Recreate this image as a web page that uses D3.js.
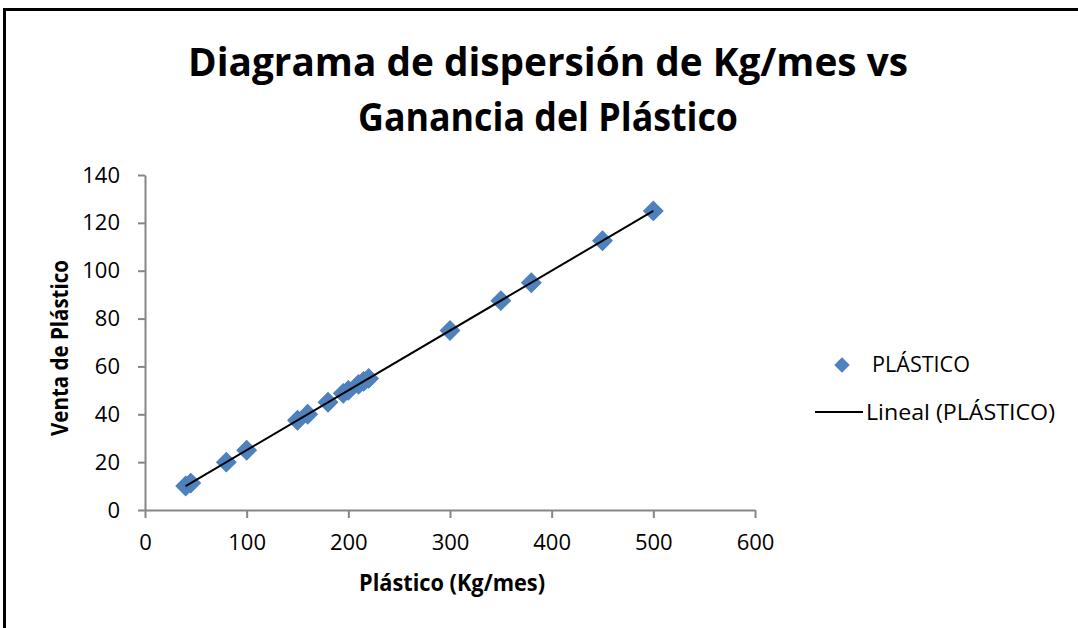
<!DOCTYPE html>
<html>
<head>
<meta charset="utf-8">
<script src="https://cdn.jsdelivr.net/npm/d3@7"></script>
<style>
  html, body { margin: 0; padding: 0; background: #fff; }
  svg { display: block; font-family: "Open Sans", sans-serif; }
</style>
</head>
<body>
<svg></svg>
<script>
// Data
const kgMes = [40, 45, 80, 100, 150, 160, 180, 195, 200, 210, 215, 220, 300, 350, 380, 450, 500];
const venta = [10, 11.25, 20, 25, 37.5, 40, 45, 48.75, 50, 52.5, 53.75, 55, 75, 87.5, 95, 112.5, 125];
const xTicks = [0, 100, 200, 300, 400, 500, 600];
const yTicks = [0, 20, 40, 60, 80, 100, 120, 140];
const titleLines = ["Diagrama de dispersión de Kg/mes vs", "Ganancia del Plástico"];
const seriesName = "PLÁSTICO";

const width = 1078, height = 628;
const svg = d3.select("svg").attr("width", width).attr("height", height);

// Outer frame (only top and left edges visible in the crop)
svg.append("rect")
    .attr("x", 4.5).attr("y", 9.5)
    .attr("width", width + 20).attr("height", height + 20)
    .attr("fill", "none").attr("stroke", "#000").attr("stroke-width", 3);

// Scales
const xScale = d3.scaleLinear().domain([0, 600]).range([145, 755]);
const yScale = d3.scaleLinear().domain([0, 140]).range([510, 175]);

// Title
svg.append("g").selectAll("text")
    .data(titleLines)
    .enter().append("text")
    .attr("x", 548)
    .attr("y", (d, i) => 76 + i * 55)
    .attr("text-anchor", "middle")
    .attr("font-size", 40)
    .attr("font-weight", "bold")
    .attr("textLength", (d, i) => i === 0 ? 720 : 380)
    .attr("lengthAdjust", "spacingAndGlyphs")
    .text(d => d);

// Axes
const axisColor = "#868686";
const xAxis = svg.append("g")
    .attr("transform", `translate(0,${yScale(0)})`)
    .call(d3.axisBottom(xScale).tickValues(xTicks).tickSize(8).tickPadding(16).tickSizeOuter(0));
const yAxis = svg.append("g")
    .attr("transform", `translate(${xScale(0)},0)`)
    .call(d3.axisLeft(yScale).tickValues(yTicks).tickSize(7).tickPadding(18).tickSizeOuter(0));

[xAxis, yAxis].forEach(ax => {
    ax.select(".domain").attr("stroke", axisColor).attr("stroke-width", 2);
    ax.selectAll(".tick line").attr("stroke", axisColor).attr("stroke-width", 2);
    ax.selectAll(".tick text")
        .attr("fill", "#000")
        .attr("font-size", 22)
        .attr("font-family", "Open Sans, sans-serif");
});

// Axis titles
svg.append("text")
    .attr("x", 452).attr("y", 591)
    .attr("text-anchor", "middle")
    .attr("font-size", 23).attr("font-weight", "bold")
    .attr("textLength", 186).attr("lengthAdjust", "spacingAndGlyphs")
    .text("Plástico (Kg/mes)");

svg.append("text")
    .attr("transform", "translate(68,348) rotate(-90)")
    .attr("text-anchor", "middle")
    .attr("font-size", 23).attr("font-weight", "bold")
    .attr("textLength", 176).attr("lengthAdjust", "spacingAndGlyphs")
    .text("Venta de Plástico");

// Linear trend (least squares fit from data)
const mx = d3.mean(kgMes), my = d3.mean(venta);
const slope = d3.sum(kgMes, (x, i) => (x - mx) * (venta[i] - my)) / d3.sum(kgMes, x => (x - mx) ** 2);
const intercept = my - slope * mx;
const trendX = d3.extent(kgMes);

// Points
const diamond = d3.symbol().type(d3.symbolSquare).size(190);
svg.append("g").selectAll("path")
    .data(kgMes.map((x, i) => [x, venta[i]]))
    .enter().append("path")
    .attr("d", diamond)
    .attr("transform", d => `translate(${xScale(d[0])},${yScale(d[1])}) rotate(45)`)
    .attr("fill", "#4F81BD")
    .attr("stroke", "#4A7EBB")
    .attr("stroke-width", 1);

svg.append("line")
    .attr("x1", xScale(trendX[0])).attr("y1", yScale(slope * trendX[0] + intercept))
    .attr("x2", xScale(trendX[1])).attr("y2", yScale(slope * trendX[1] + intercept))
    .attr("stroke", "#000").attr("stroke-width", 2);

// Legend
const legend = svg.append("g");
legend.append("path")
    .attr("d", d3.symbol().type(d3.symbolSquare).size(120))
    .attr("transform", "translate(842,365) rotate(45)")
    .attr("fill", "#4F81BD");
legend.append("text")
    .attr("x", 872).attr("y", 372)
    .attr("font-size", 22)
    .attr("textLength", 98).attr("lengthAdjust", "spacingAndGlyphs")
    .text(seriesName);
legend.append("line")
    .attr("x1", 815).attr("x2", 863).attr("y1", 412).attr("y2", 412)
    .attr("stroke", "#000").attr("stroke-width", 2);
legend.append("text")
    .attr("x", 866).attr("y", 420)
    .attr("font-size", 22)
    .attr("textLength", 189).attr("lengthAdjust", "spacingAndGlyphs")
    .text(`Lineal (${seriesName})`);
</script>
</body>
</html>
